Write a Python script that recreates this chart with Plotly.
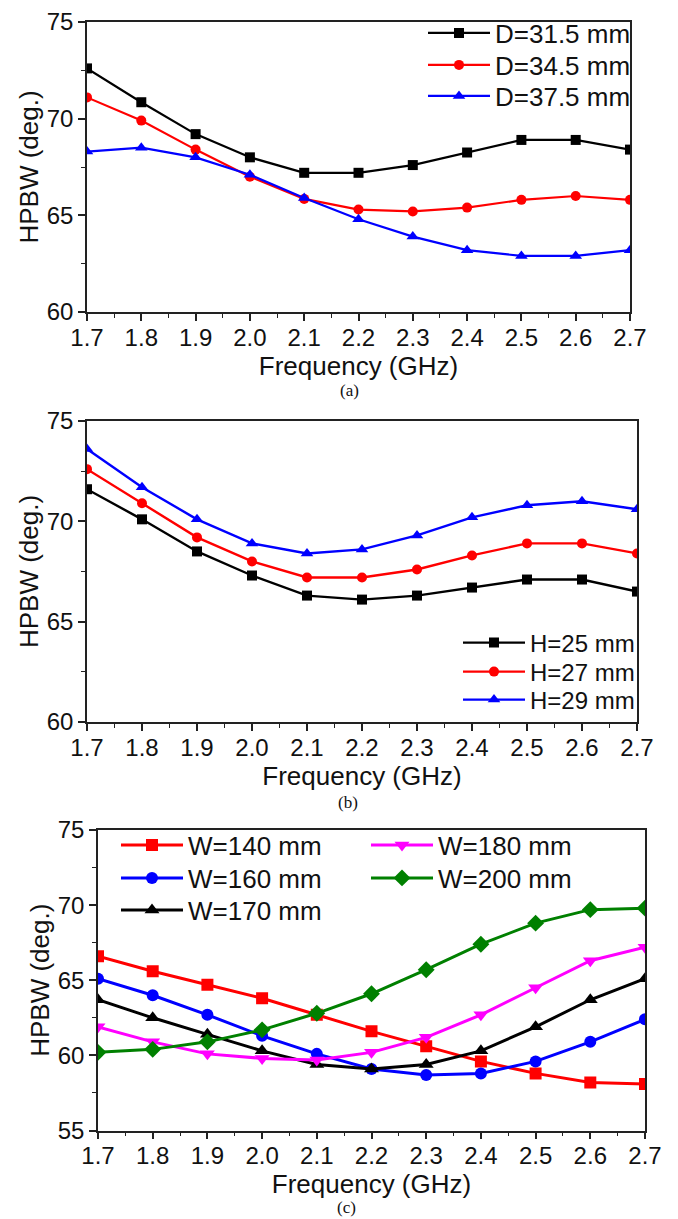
import plotly.graph_objects as go

freq = [1.7, 1.8, 1.9, 2.0, 2.1, 2.2, 2.3, 2.4, 2.5, 2.6, 2.7]

# Panel (a)
d_labels = ["D=31.5 mm", "D=34.5 mm", "D=37.5 mm"]
d_315 = [72.6, 70.85, 69.2, 68.0, 67.2, 67.2, 67.6, 68.25, 68.9, 68.9, 68.4]
d_345 = [71.1, 69.9, 68.4, 67.0, 65.85, 65.3, 65.2, 65.4, 65.8, 66.0, 65.8]
d_375 = [68.3, 68.5, 68.0, 67.1, 65.9, 64.8, 63.9, 63.2, 62.9, 62.9, 63.2]

# Panel (b)
h_labels = ["H=25 mm", "H=27 mm", "H=29 mm"]
h_25 = [71.6, 70.1, 68.5, 67.3, 66.3, 66.1, 66.3, 66.7, 67.1, 67.1, 66.5]
h_27 = [72.6, 70.9, 69.2, 68.0, 67.2, 67.2, 67.6, 68.3, 68.9, 68.9, 68.4]
h_29 = [73.6, 71.7, 70.1, 68.9, 68.4, 68.6, 69.3, 70.2, 70.8, 71.0, 70.6]

# Panel (c)
w_labels = ["W=140 mm", "W=160 mm", "W=170 mm", "W=180 mm", "W=200 mm"]
w_140 = [66.6, 65.6, 64.7, 63.8, 62.7, 61.6, 60.6, 59.6, 58.8, 58.2, 58.1]
w_160 = [65.1, 64.0, 62.7, 61.3, 60.1, 59.1, 58.7, 58.8, 59.6, 60.9, 62.4]
w_170 = [63.7, 62.5, 61.4, 60.3, 59.4, 59.1, 59.4, 60.3, 61.9, 63.7, 65.1]
w_180 = [61.9, 60.9, 60.1, 59.8, 59.7, 60.2, 61.2, 62.7, 64.5, 66.3, 67.2]
w_200 = [60.2, 60.4, 60.9, 61.7, 62.8, 64.1, 65.7, 67.4, 68.8, 69.7, 69.8]

x_ticks = [f"{v:.1f}" for v in freq]
panel_tags = ["(a)", "(b)", "(c)"]

FONT = "Liberation Sans, Arial, sans-serif"
OFF = 8            # the page body adds an 8 px offset
W = 678 - OFF
H = 1219 - OFF


def py(px):
    return 1 - (px - OFF) / H


def pxx(px):
    return (px - OFF) / W


fig = go.Figure()

legend_specs = {}
n_leg = [0]


def add(xa, ya, y, name, color, symbol, size, width, left, centre, fsize):
    n_leg[0] += 1
    lid = "legend" if n_leg[0] == 1 else f"legend{n_leg[0]}"
    legend_specs[lid] = dict(
        x=pxx(left), y=py(centre), xanchor="left", yanchor="middle",
        font=dict(family=FONT, size=fsize, color="#111"), itemwidth=62,
        bgcolor="rgba(0,0,0,0)", borderwidth=0, visible=True)
    fig.add_trace(go.Scatter(
        x=freq, y=y, name=name, mode="lines+markers", showlegend=True,
        line=dict(color=color, width=width),
        marker=dict(color=color, symbol=symbol, size=size),
        xaxis=xa, yaxis=ya, legend=lid))


add("x", "y", d_315, d_labels[0], "#000000", "square", 10, 2.2, 423, 33, 26)
add("x", "y", d_345, d_labels[1], "#ff0000", "circle", 10, 2.2, 423, 65, 26)
add("x", "y", d_375, d_labels[2], "#0000ff", "triangle-up", 11, 2.2, 423, 96, 26)

add("x2", "y2", h_25, h_labels[0], "#000000", "square", 10, 2.4, 458, 643, 24)
add("x2", "y2", h_27, h_labels[1], "#ff0000", "circle", 10, 2.4, 458, 672, 24)
add("x2", "y2", h_29, h_labels[2], "#0000ff", "triangle-up", 11, 2.4, 458, 700, 24)

add("x3", "y3", w_140, w_labels[0], "#ff0000", "square", 12, 3, 116, 845, 26)
add("x3", "y3", w_160, w_labels[1], "#0000ff", "circle", 12, 3, 116, 878, 26)
add("x3", "y3", w_170, w_labels[2], "#000000", "triangle-up", 13, 3, 116, 910, 26)
add("x3", "y3", w_180, w_labels[3], "#ff00ff", "triangle-down", 13, 3, 366, 845, 26)
add("x3", "y3", w_200, w_labels[4], "#008000", "diamond", 13, 3, 366, 878, 26)


def xaxis(domain, anchor, standoff=4):
    return dict(domain=domain, anchor=anchor, range=[1.7, 2.7], automargin=False,
                tickvals=freq, ticktext=x_ticks, ticks="outside", ticklen=7,
                tickwidth=1.5, tickcolor="#222", ticklabelstandoff=-4,
                ticklabeloverflow="allow",
                minor=dict(ticks="outside", ticklen=4, dtick=0.05, tick0=1.7,
                           tickcolor="#222", tickwidth=1.2),
                showline=True, linecolor="#222", linewidth=1.6, mirror=True,
                showgrid=False, zeroline=False,
                tickfont=dict(family=FONT, size=24, color="#111"),
                title=dict(text="Frequency (GHz)", standoff=standoff,
                           font=dict(family=FONT, size=26, color="#111")))


def yaxis(domain, anchor, rng):
    return dict(domain=domain, anchor=anchor, range=rng, dtick=5, tick0=rng[0],
                automargin=False, ticklabeloverflow="allow",
                ticks="outside", ticklen=7, tickwidth=1.5, tickcolor="#222",
                minor=dict(ticks="outside", ticklen=4, dtick=2.5,
                           tickcolor="#222", tickwidth=1.2),
                showline=True, linecolor="#222", linewidth=1.6, mirror=True,
                showgrid=False, zeroline=False,
                tickfont=dict(family=FONT, size=24, color="#111"),
                title=dict(text="HPBW (deg.)", standoff=1,
                           font=dict(family=FONT, size=26, color="#111")))


fig.update_layout(
    width=W, height=H, margin=dict(l=0, r=0, t=0, b=0),
    paper_bgcolor="white", plot_bgcolor="white", showlegend=True,
    xaxis=xaxis([pxx(87), pxx(630)], "y"),
    yaxis=yaxis([py(312), py(22)], "x", [60, 75]),
    xaxis2=xaxis([pxx(87), pxx(637)], "y2"),
    yaxis2=yaxis([py(722), py(421)], "x2", [60, 75]),
    xaxis3=xaxis([pxx(98), pxx(645)], "y3", standoff=0),
    yaxis3=yaxis([py(1130.5), py(830)], "x3", [55, 75]),
    **legend_specs,
)

for tag, ypix, xc in zip(panel_tags, [390, 802, 1207], [349, 348, 347]):
    fig.add_annotation(text=tag, x=pxx(xc), y=py(ypix), xref="paper", yref="paper",
                       showarrow=False, xanchor="center", yanchor="middle",
                       font=dict(family="Liberation Serif, Times New Roman, serif",
                                 size=17, color="#111"))

fig.write_html("out.html")
